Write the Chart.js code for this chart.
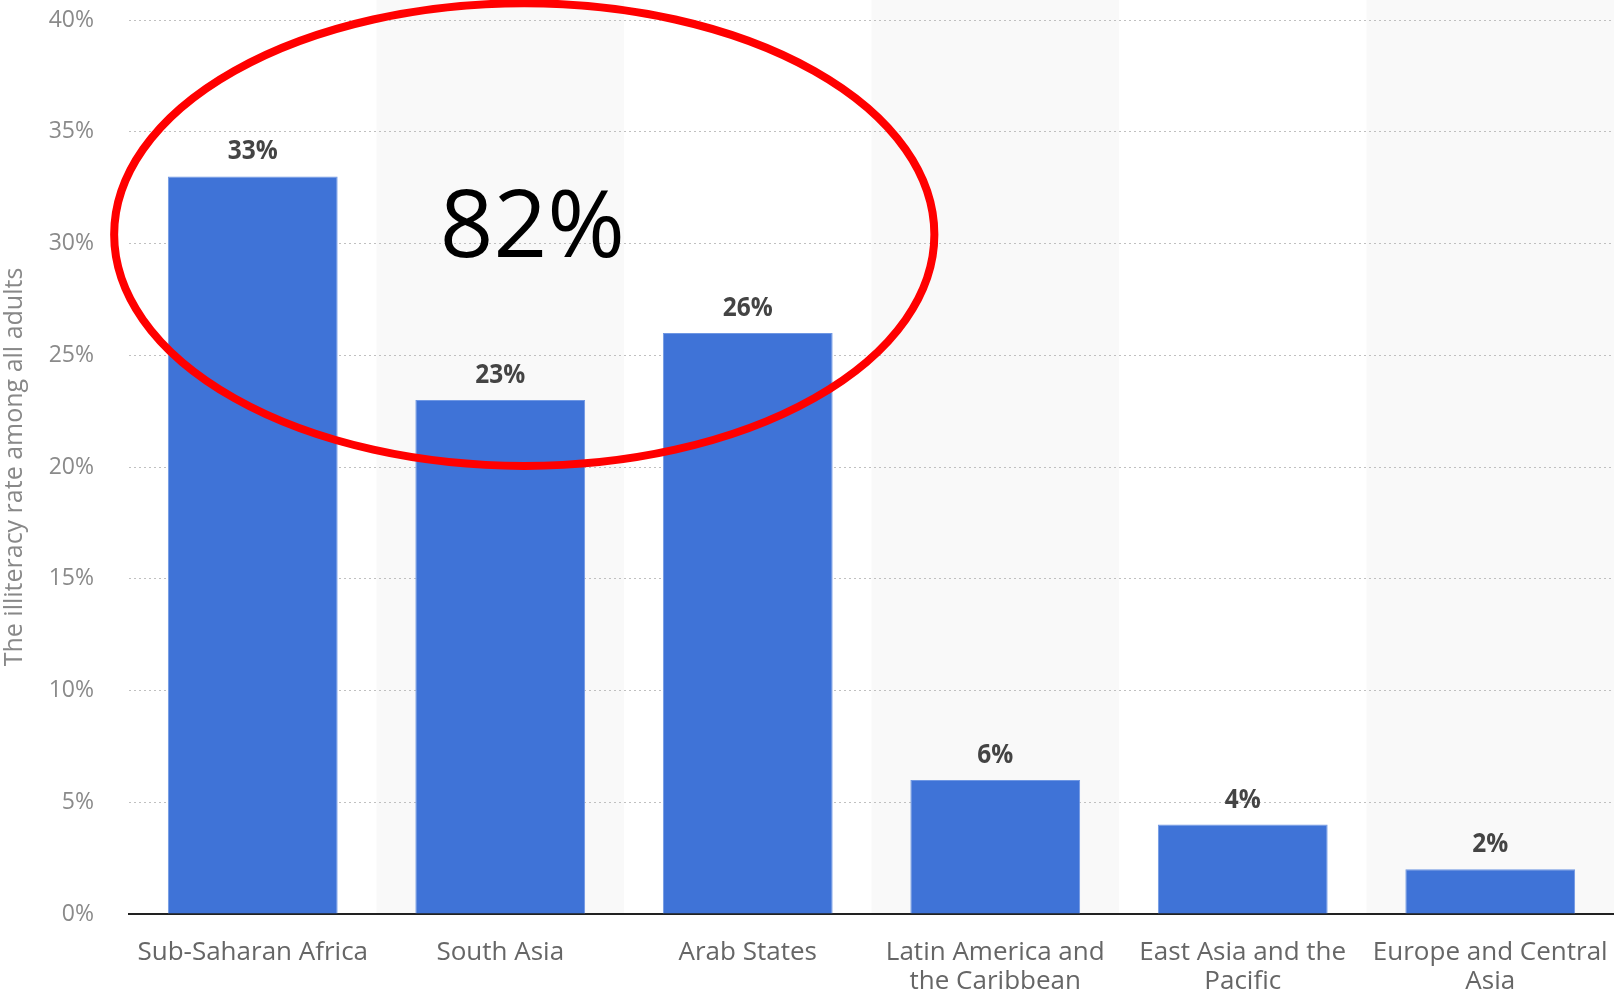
<!DOCTYPE html>
<html>
<head>
<meta charset="utf-8">
<title>Adult illiteracy rate by region</title>
<script src="https://cdn.jsdelivr.net/npm/chart.js@4.4.1/dist/chart.umd.min.js"></script>
<style>
  html, body { margin: 0; padding: 0; background: #ffffff; }
  #wrap { width: 1614px; height: 994px; position: relative; }
</style>
</head>
<body>
<div id="wrap"><canvas id="chart" width="1614" height="994"></canvas></div>
<script>
// Regions (multi-line labels are split into lines)
const regions = [
  'Sub-Saharan Africa',
  'South Asia',
  'Arab States',
  ['Latin America and', 'the Caribbean'],
  ['East Asia and the', 'Pacific'],
  ['Europe and Central', 'Asia']
];
// Adult illiteracy rate, percent
const illiteracyRate = [33, 23, 26, 6, 4, 2];
// Y axis ticks, percent
const yTicks = [0, 5, 10, 15, 20, 25, 30, 35, 40];
// Regions grouped by the highlight ellipse
const highlighted = [0, 1, 2];

const BAR = '#3f73d7';
const FONT = '"Open Sans", "Noto Sans", sans-serif';

// Alternating light column bands behind the bars
const bandPlugin = {
  id: 'bands',
  beforeDraw(chart) {
    const { ctx, chartArea, scales: { x } } = chart;
    ctx.save();
    ctx.fillStyle = '#ffffff';
    ctx.fillRect(0, 0, chart.width, chart.height);
    const w = x.width / regions.length;
    ctx.fillStyle = '#f9f9f9';
    regions.forEach((_, i) => {
      if (i % 2 === 1) {
        const cx = x.getPixelForValue(i);
        ctx.fillRect(cx - w / 2, 0, w, chartArea.bottom);
      }
    });
    ctx.restore();
  }
};

// Value labels above each bar
const valueLabelPlugin = {
  id: 'valueLabels',
  afterDatasetsDraw(chart) {
    const { ctx } = chart;
    const meta = chart.getDatasetMeta(0);
    ctx.save();
    ctx.fillStyle = '#444444';
    ctx.font = 'bold 26px ' + FONT;
    ctx.textAlign = 'center';
    ctx.textBaseline = 'alphabetic';
    meta.data.forEach((bar, i) => {
      ctx.save();
      ctx.translate(bar.x, bar.y - 17);
      ctx.scale(0.94, 1);
      ctx.fillText(illiteracyRate[i] + '%', 0, 0);
      ctx.restore();
    });
    ctx.restore();
  }
};

// Red ellipse around the top three regions with their combined share
const highlightPlugin = {
  id: 'highlight',
  afterDraw(chart) {
    const { ctx, scales: { x, y } } = chart;
    const step = x.getPixelForValue(1) - x.getPixelForValue(0);
    const cx = x.getPixelForValue(1) + step * 0.097;
    const rx = step * 1.657;
    const cy = y.getPixelForValue(30.4);
    const ry = y.getPixelForValue(20.05) - cy;
    ctx.save();
    ctx.beginPath();
    ctx.ellipse(cx, cy, rx, ry, 0, 0, Math.PI * 2);
    ctx.strokeStyle = '#ff0000';
    ctx.lineWidth = 8;
    ctx.stroke();

    const total = highlighted.reduce((s, i) => s + illiteracyRate[i], 0);
    ctx.fillStyle = '#000000';
    ctx.font = '94px ' + FONT;
    ctx.textAlign = 'center';
    ctx.textBaseline = 'alphabetic';
    ctx.fillText(total + '%', x.getPixelForValue(1) + step * 0.13, y.getPixelForValue(29.4));
    ctx.restore();
  }
};

new Chart(document.getElementById('chart'), {
  type: 'bar',
  data: {
    labels: regions,
    datasets: [{
      data: illiteracyRate,
      backgroundColor: BAR,
      borderColor: '#6f97e3',
      borderWidth: { top: 1, left: 1, right: 1, bottom: 0 },
      borderSkipped: 'bottom',
      barPercentage: 0.686,
      categoryPercentage: 1.0
    }]
  },
  options: {
    responsive: false,
    animation: false,
    devicePixelRatio: 1,
    layout: { padding: { top: 20, right: 0, bottom: 0, left: 0 } },
    plugins: {
      legend: { display: false },
      tooltip: { enabled: false }
    },
    scales: {
      x: {
        offset: true,
        grid: { display: false, drawTicks: false },
        border: { display: true, color: '#222222', width: 2 },
        ticks: {
          color: '#666666',
          font: { family: FONT, size: 26, lineHeight: 1.12 },
          padding: 24,
          maxRotation: 0,
          minRotation: 0,
          autoSkip: false
        },
        afterFit(scale) {
          scale.height = 80;
          scale.paddingLeft = 0;
          scale.paddingRight = 0;
        }
      },
      y: {
        min: 0,
        max: 40,
        afterBuildTicks(scale) {
          scale.ticks = yTicks.map(v => ({ value: v }));
        },
        grid: {
          color: '#c0c0c0',
          lineWidth: 1,
          drawTicks: false
        },
        border: { display: false, dash: [2, 3] },
        ticks: {
          color: '#8a8a8a',
          font: { family: FONT, size: 23 },
          padding: 35,
          callback: v => v + '%'
        },
        title: {
          display: true,
          text: 'The illiteracy rate among all adults',
          color: '#888888',
          font: { family: FONT, size: 25 },
          padding: { top: 0, bottom: 0 }
        },
        afterFit(scale) {
          scale.width = 129;
          scale.paddingTop = 0;
          scale.paddingBottom = 0;
        }
      }
    }
  },
  plugins: [bandPlugin, valueLabelPlugin, highlightPlugin]
});
</script>
</body>
</html>
